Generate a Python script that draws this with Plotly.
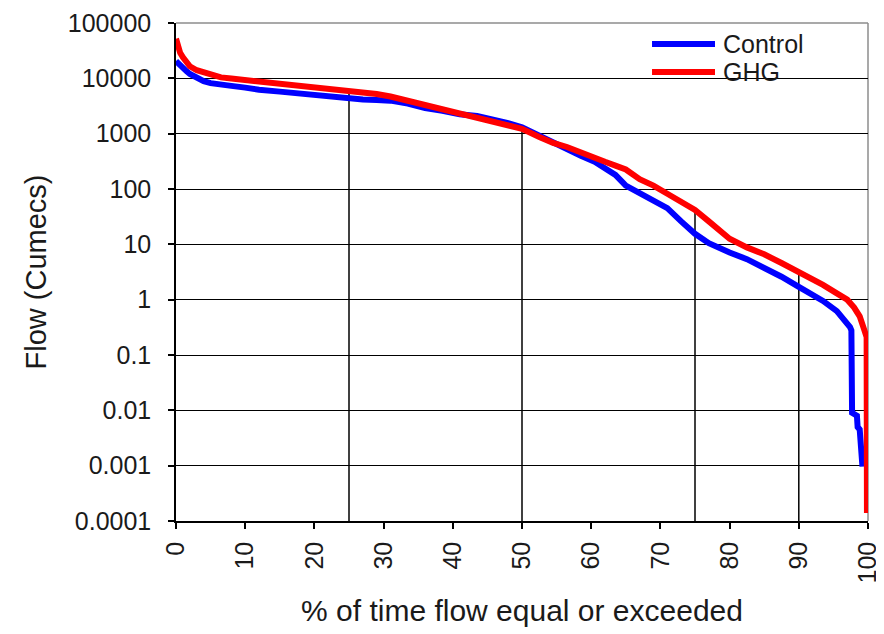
import plotly.graph_objects as go

# ---- data ----
pct_control = [0, 0.3, 0.6, 1, 1.5, 2, 3, 4, 5, 6.5, 8, 10, 12, 15, 17, 19, 21, 23, 25, 27,
               29, 31, 33.5, 36, 38.5, 41, 43.5, 46, 48, 50, 52.5, 54.5, 56.5, 58.5, 60.5, 62,
               63.5, 65, 67, 69, 71, 73, 75, 77, 78.5, 80, 82.5, 85, 87.5, 90, 92, 93.5, 95.5,
               96.5, 97.4, 97.6, 97.7, 98.4, 98.5, 98.8, 98.9, 99.1, 99.2]
flow_control = [20500, 18500, 17000, 15500, 13500, 12000, 10200, 8900, 8200, 7600, 7300, 6800,
                6200, 5750, 5400, 5200, 4900, 4600, 4400, 4150, 4050, 3950, 3500, 2900, 2600,
                2250, 2080, 1820, 1550, 1300, 910, 680, 500, 400, 310, 240, 180, 115, 85, 65,
                45, 26, 15.5, 10.5, 8.5, 7.1, 5.4, 3.8, 2.6, 1.7, 1.25, 0.95, 0.62, 0.45, 0.32,
                0.28, 0.009, 0.008, 0.005, 0.0045, 0.0022, 0.002, 0.00096]

pct_ghg = [0, 0.3, 0.6, 1, 1.5, 2, 3, 4, 5, 6.5, 8, 10, 12, 15, 17, 19, 21, 23, 25, 27, 29, 31,
           33.5, 36, 38.5, 41, 43.5, 46, 48, 50, 52.5, 54.5, 56.5, 58.5, 60.5, 62, 63.5, 65, 67,
           69, 71, 73, 75, 77, 78.5, 80, 82.5, 85, 87.5, 90, 92, 93.5, 95.5, 97, 98, 98.8, 99.4,
           99.8, 99.85]
flow_ghg = [52000, 38000, 29000, 24000, 19500, 16500, 14000, 12700, 11500, 10400, 9900, 9300,
            8900, 8400, 7800, 7250, 6800, 6300, 5950, 5500, 5200, 4700, 3950, 3350, 2850, 2350,
            2000, 1680, 1450, 1220, 870, 680, 575, 470, 375, 310, 265, 225, 150, 115, 82, 60, 42,
            26, 18, 12.6, 8.8, 6.6, 4.6, 3.2, 2.3, 1.85, 1.3, 1.0, 0.72, 0.5, 0.3, 0.21, 0.00014]

# drop lines at selected exceedance percentiles (up to the GHG curve)
drop_pct = [25, 50, 75, 90]
drop_top = [6200, 1200, 42, 3.2]

series_names = ["Control", "GHG"]
series_colors = ["#0000ff", "#ff0000"]

y_tickvals = [0.0001, 0.001, 0.01, 0.1, 1, 10, 100, 1000, 10000, 100000]
y_ticktext = ["0.0001", "0.001", "0.01", "0.1", "1", "10", "100", "1000", "10000", "100000"]
x_tickvals = [0, 10, 20, 30, 40, 50, 60, 70, 80, 90, 100]

FONT = "Liberation Sans, Arial, sans-serif"
TXT = "#1a1a1a"

fig = go.Figure()

for px_, top in zip(drop_pct, drop_top):
    fig.add_trace(go.Scatter(x=[px_, px_], y=[y_tickvals[0], top], mode="lines",
                             line=dict(color="black", width=1.5), showlegend=False,
                             hoverinfo="skip"))

fig.add_trace(go.Scatter(x=pct_control, y=flow_control, mode="lines", name=series_names[0],
                         line=dict(color=series_colors[0], width=6), showlegend=False))
fig.add_trace(go.Scatter(x=pct_ghg, y=flow_ghg, mode="lines", name=series_names[1],
                         line=dict(color=series_colors[1], width=6), showlegend=False))

# legend drawn in paper coordinates (line sample + label)
shapes = [
    dict(type="rect", xref="paper", yref="paper", x0=0.601, x1=0.995, y0=0.80, y1=0.999,
         fillcolor="white", line=dict(width=0), layer="between"),
    dict(type="line", xref="paper", yref="paper", x0=0, x1=1, y0=1, y1=1,
         line=dict(color="#8c8c8c", width=1.5), layer="between"),
    dict(type="line", xref="paper", yref="paper", x0=1, x1=1, y0=0, y1=1,
         line=dict(color="#8c8c8c", width=1.5), layer="between"),
]
annotations = []
legend_y = [0.9578, 0.9016]
for name, col, ly in zip(series_names, series_colors, legend_y):
    shapes.append(dict(type="line", xref="paper", yref="paper", x0=0.6879, x1=0.7789,
                       y0=ly, y1=ly, line=dict(color=col, width=6), layer="above"))
    annotations.append(dict(text=name, xref="paper", yref="paper", x=0.7875, y=ly,
                            xanchor="left", yanchor="middle", showarrow=False,
                            font=dict(size=25, color=TXT, family=FONT)))

# page body adds an 8px offset, so the figure is sized to fit inside the window
fig.update_layout(
    width=876, height=626,
    margin=dict(l=168, r=16, t=15, b=113, autoexpand=False),
    paper_bgcolor="white", plot_bgcolor="white",
    font=dict(family=FONT, color=TXT, size=25),
    showlegend=False,
    shapes=shapes,
    annotations=annotations,
)

fig.update_xaxes(
    range=[0, 100], tickvals=x_tickvals, tickangle=-90, automargin=False,
    ticks="outside", ticklen=6, tickwidth=1.5, tickcolor="black",
    showline=True, linecolor="black", linewidth=1.5, showgrid=False, zeroline=False,
    tickfont=dict(size=25, color=TXT), ticklabelstandoff=3,
    title=dict(text="% of time flow equal or exceeded", font=dict(size=30, color=TXT), standoff=18),
)
fig.update_yaxes(
    type="log", range=[-4, 5], tickvals=y_tickvals, ticktext=y_ticktext, automargin=False,
    ticks="outside", ticklen=6, tickwidth=1.5, tickcolor="black",
    showline=True, linecolor="black", linewidth=1.5,
    showgrid=True, gridcolor="black", gridwidth=1, zeroline=False,
    tickfont=dict(size=25, color=TXT), ticklabelstandoff=12,
    title=dict(text="Flow (Cumecs)", font=dict(size=29, color=TXT), standoff=13),
)

fig.write_html("out.html")
